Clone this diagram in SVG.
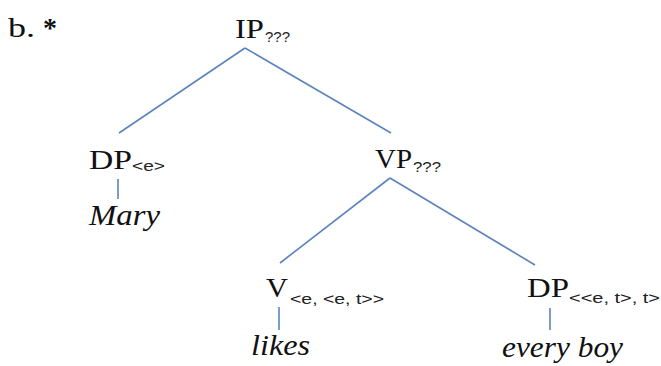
<svg xmlns="http://www.w3.org/2000/svg" width="661" height="366" viewBox="0 0 661 366">
<style>
.lbl{font-family:"Liberation Serif","Times New Roman",serif;fill:#111;}
.cat{font-size:28px;}
.sub{font-size:14px;font-family:"Liberation Sans",Arial,sans-serif;fill:#222;}
.word{font-size:29px;font-style:italic;}
.edge{stroke:#5b84bf;stroke-width:1.6;fill:none;}
</style>
<rect width="661" height="366" fill="#fff"/>
<g id="label"><text class="lbl" x="8" y="37" font-size="28" textLength="27" lengthAdjust="spacingAndGlyphs">b.</text><text class="lbl" x="43" y="37" font-size="28" font-weight="bold">*</text></g>
<g id="connectors">
<line class="edge" x1="245" y1="48" x2="119" y2="133"/>
<line class="edge" x1="245" y1="48" x2="391" y2="133"/>
<line class="edge" x1="118" y1="179" x2="118" y2="199"/>
<line class="edge" x1="390" y1="178" x2="280" y2="263"/>
<line class="edge" x1="390" y1="178" x2="535" y2="265"/>
<line class="edge" x1="279" y1="307" x2="279" y2="330"/>
<line class="edge" x1="550" y1="308" x2="550" y2="330"/>
</g>
<g id="IP"><text class="lbl cat" x="235" y="38" textLength="29" lengthAdjust="spacingAndGlyphs">IP</text><text class="lbl sub" x="265" y="42" textLength="25" lengthAdjust="spacingAndGlyphs">???</text></g>
<g id="DP1"><text class="lbl cat" x="89" y="169" textLength="43" lengthAdjust="spacingAndGlyphs">DP</text><text class="lbl sub" x="132" y="171" textLength="33" lengthAdjust="spacingAndGlyphs">&lt;e&gt;</text></g>
<g id="Mary"><text class="lbl word" x="89" y="225" textLength="71" lengthAdjust="spacingAndGlyphs">Mary</text></g>
<g id="VP"><text class="lbl cat" x="375" y="168" textLength="37" lengthAdjust="spacingAndGlyphs">VP</text><text class="lbl sub" x="413" y="172" textLength="28" lengthAdjust="spacingAndGlyphs">???</text></g>
<g id="V"><text class="lbl cat" x="266" y="297" textLength="22" lengthAdjust="spacingAndGlyphs">V</text><text class="lbl sub" x="290" y="304" textLength="94" lengthAdjust="spacingAndGlyphs">&lt;e, &lt;e, t&gt;&gt;</text></g>
<g id="likes"><text class="lbl word" x="251" y="355" textLength="59" lengthAdjust="spacingAndGlyphs">likes</text></g>
<g id="DP2"><text class="lbl cat" x="527" y="297" textLength="42" lengthAdjust="spacingAndGlyphs">DP</text><text class="lbl sub" x="569" y="303" textLength="91" lengthAdjust="spacingAndGlyphs">&lt;&lt;e, t&gt;, t&gt;</text></g>
<g id="everyboy"><text class="lbl word" x="502" y="357" textLength="121" lengthAdjust="spacingAndGlyphs">every boy</text></g>
</svg>
